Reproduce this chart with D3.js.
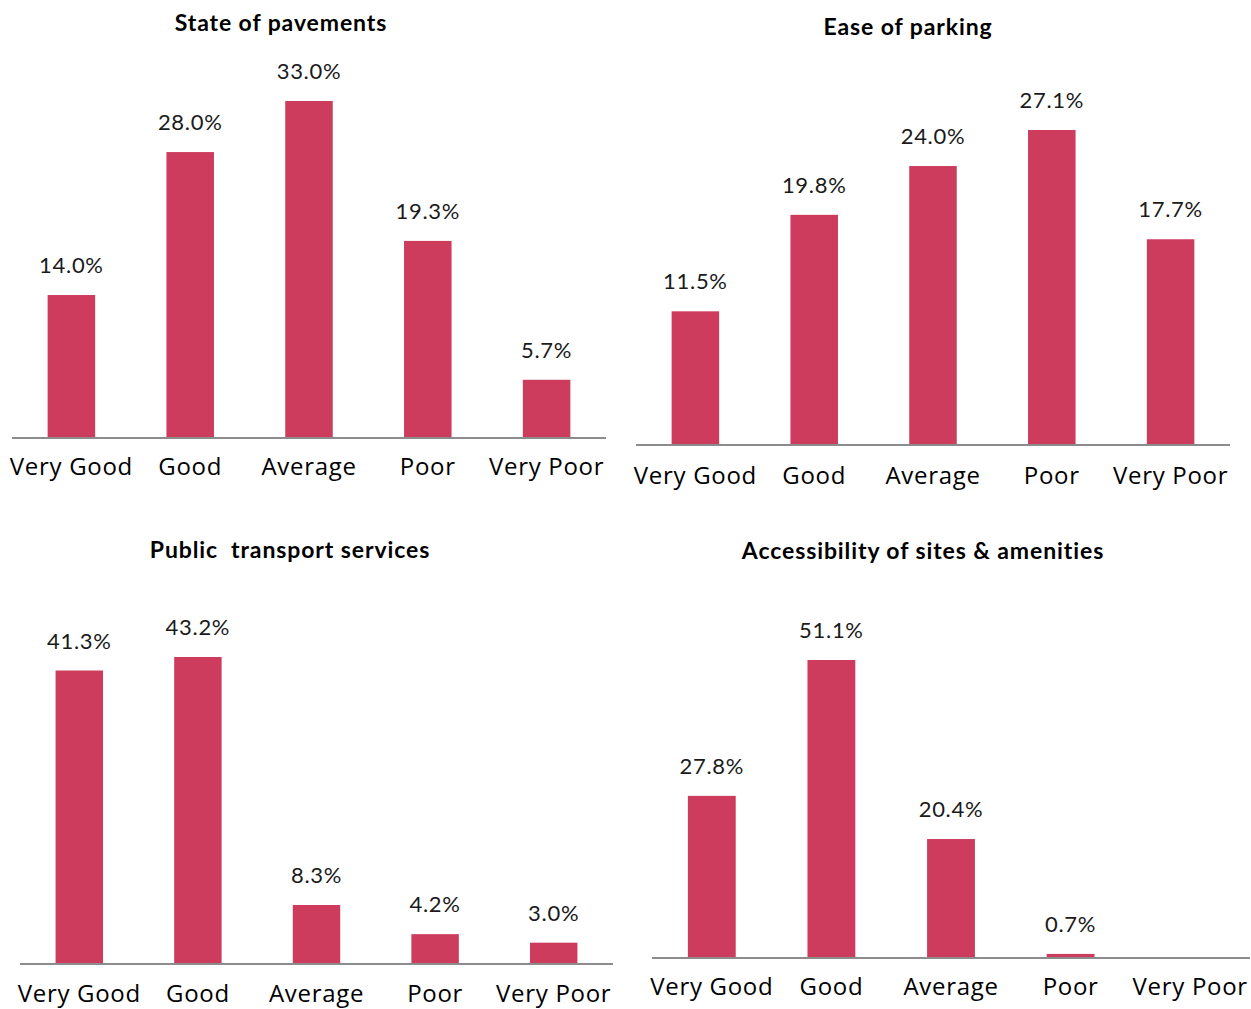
<!DOCTYPE html>
<html>
<head>
<meta charset="utf-8">
<style>
  body { margin: 0; background: #fff; }
  svg { display: block; }
  .title { font-family: "Lato", "Open Sans", sans-serif; font-weight: bold; font-size: 23px; letter-spacing: 0.9px; fill: #000; white-space: pre; }
  .value { font-family: "Lato", "Open Sans", sans-serif; font-size: 22px; letter-spacing: 0.7px; fill: #1a1a1a; }
  .cat { font-family: "Open Sans", "Noto Sans", sans-serif; font-size: 24px; letter-spacing: 0.7px; fill: #000; }
</style>
</head>
<body>
<svg id="chart" width="1251" height="1009"></svg>
<script src="https://d3js.org/d3.v7.min.js"></script>
<script>

var categories = ["Very Good", "Good", "Average", "Poor", "Very Poor"];

var pavements = [14.0, 28.0, 33.0, 19.3, 5.7];
var parking = [11.5, 19.8, 24.0, 27.1, 17.7];
var transport = [41.3, 43.2, 8.3, 4.2, 3.0];
var access = [27.8, 51.1, 20.4, 0.7, 0.0];

var titles = ["State of pavements", "Ease of parking", "Public  transport services", "Accessibility of sites & amenities"];

// where each little chart sits on the page
var panels = [
  {values: pavements, title: titles[0], x0: 12, x1: 606, base: 438, top: 101, titleX: 281, titleY: 31, catY: 475},
  {values: parking, title: titles[1], x0: 636, x1: 1230, base: 445, top: 130, titleX: 908, titleY: 35, catY: 484},
  {values: transport, title: titles[2], x0: 20, x1: 613, base: 964, top: 657, titleX: 290, titleY: 558, catY: 1002},
  {values: access, title: titles[3], x0: 652, x1: 1250, base: 958, top: 660, titleX: 923, titleY: 559, catY: 995}
];

var svg = d3.select("#chart");

panels.forEach(function(p) {
  var g = svg.append("g");

  var x = d3.scaleBand()
      .domain(categories)
      .range([p.x0, p.x1])
      .paddingInner(0.6)
      .paddingOuter(0.3);

  var y = d3.scaleLinear()
      .domain([0, d3.max(p.values)])
      .range([p.base, p.top]);

  var data = categories.map(function(c, i) { return {cat: c, v: p.values[i]}; });
  var shown = data.filter(function(d) { return d.v > 0; });

  g.selectAll("rect")
      .data(shown)
    .enter().append("rect")
      .attr("x", function(d) { return x(d.cat); })
      .attr("width", x.bandwidth())
      .attr("y", function(d) { return y(d.v); })
      .attr("height", function(d) { return p.base - y(d.v); })
      .attr("fill", "#cd3b5d");

  g.selectAll(".value")
      .data(shown)
    .enter().append("text")
      .attr("class", "value")
      .attr("x", function(d) { return x(d.cat) + x.bandwidth() / 2; })
      .attr("y", function(d) { return y(d.v) - 22; })
      .attr("text-anchor", "middle")
      .text(function(d) { return d.v.toFixed(1) + "%"; });

  // baseline + category names
  var axis = g.append("g")
      .attr("transform", "translate(0," + p.base + ")")
      .call(d3.axisBottom(x).tickSize(0).tickPadding(0));
  axis.attr("font-size", null).attr("font-family", null);
  axis.select(".domain")
      .attr("d", "M" + p.x0 + ",0H" + p.x1)
      .attr("stroke", "#8c8c8c")
      .attr("stroke-width", 2);
  axis.selectAll(".tick text")
      .attr("class", "cat")
      .attr("fill", null)
      .attr("dy", null)
      .attr("y", p.catY - p.base);

  g.append("text")
      .attr("class", "title")
      .attr("x", p.titleX)
      .attr("y", p.titleY)
      .attr("text-anchor", "middle")
      .text(p.title);
});

</script>
</body>
</html>
